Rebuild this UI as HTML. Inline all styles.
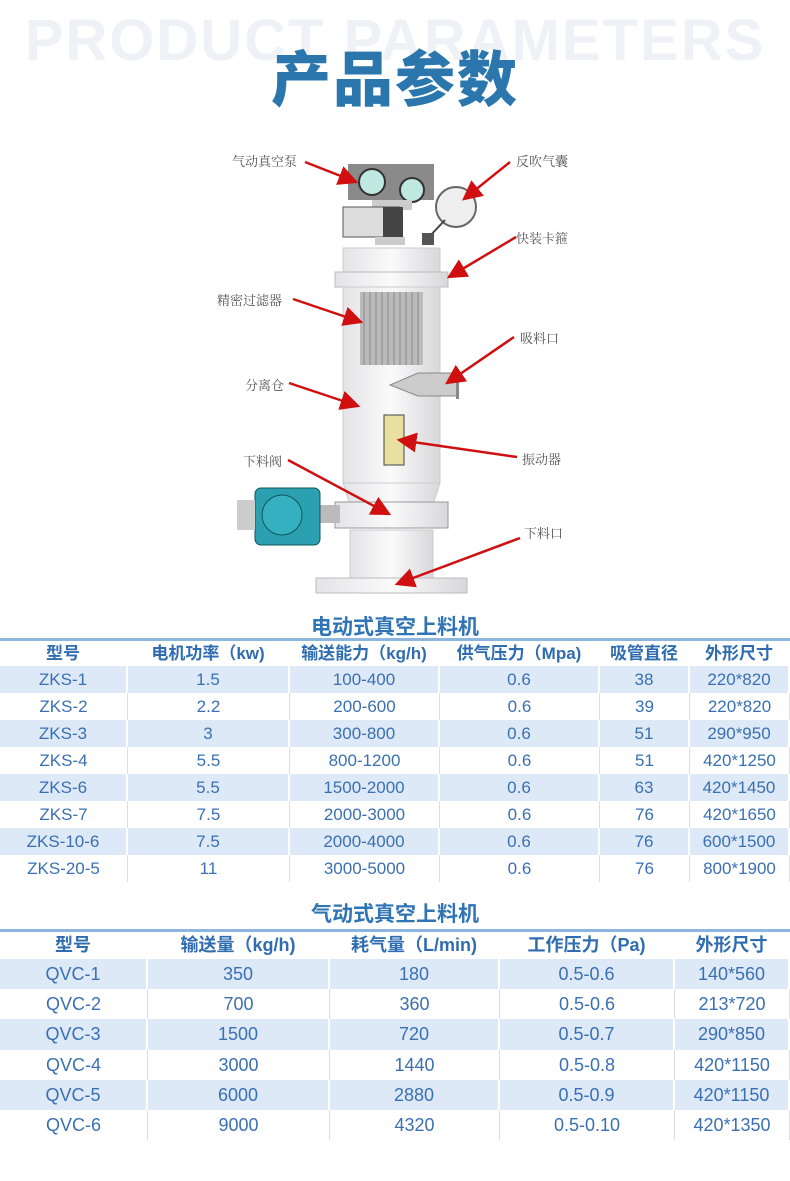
<!DOCTYPE html>
<html><head><meta charset="utf-8"><style>
*{margin:0;padding:0;box-sizing:border-box}
body{width:790px;height:1181px;background:#fff;position:relative;overflow:hidden;font-family:"Liberation Sans","Noto Sans CJK SC",sans-serif}
.abs{position:absolute}
.bg{left:0;top:12px;width:790px;text-align:center;font-size:58px;font-weight:bold;color:#eef2f6;letter-spacing:2px;line-height:58px;white-space:nowrap}
.title{left:0;top:46px;width:790px;text-align:center;font-size:60px;font-weight:900;color:#2a76ad;line-height:70px;letter-spacing:2px}
.st{width:790px;text-align:center;font-size:21px;font-weight:bold;color:#2f74b5}
.row{position:absolute;left:0;width:790px;display:flex;color:#3a70b3;font-size:17px}
.row div{text-align:center;border-right:2px solid #fff}
.row.w div{border-right:1px solid #ddd}
.row.h{font-weight:bold;color:#2f6db0;font-size:17px}
.s{background:#dde9f6}
.line{position:absolute;left:0;width:790px;height:3px;background:#8db6dc}
.lbl{position:absolute;font-size:13px;color:#555;font-family:"Liberation Serif","Noto Serif CJK SC",serif}
</style></head><body>
<div class="abs bg">PRODUCT PARAMETERS</div>
<div class="abs title">产品参数</div>

<svg class="abs" style="left:0;top:140px" width="790" height="460" viewBox="0 140 790 460">
<defs><marker id="a" markerWidth="8" markerHeight="8" refX="7" refY="4" orient="auto"><path d="M0,0 L8,4 L0,8 z" fill="#d01010"/></marker>
<linearGradient id="g" x1="0" x2="1"><stop offset="0" stop-color="#e4e4e8"/><stop offset=".5" stop-color="#fafafa"/><stop offset="1" stop-color="#d8d8dc"/></linearGradient></defs>
<rect x="348" y="164" width="86" height="36" fill="#8a8a8a"/>
<circle cx="372" cy="182" r="13" fill="#bfe8e0" stroke="#333" stroke-width="2"/>
<circle cx="412" cy="190" r="12" fill="#bfe8e0" stroke="#333" stroke-width="2"/>
<rect x="372" y="200" width="40" height="10" fill="#ccc"/>
<rect x="343" y="207" width="57" height="30" fill="#ddd" stroke="#555"/>
<rect x="383" y="207" width="20" height="30" fill="#444"/>
<circle cx="456" cy="207" r="20" fill="#eee" stroke="#666" stroke-width="2"/>
<line x1="445" y1="220" x2="428" y2="238" stroke="#444" stroke-width="2"/>
<rect x="422" y="233" width="12" height="12" fill="#555"/>
<rect x="375" y="237" width="30" height="8" fill="#ccc"/>
<rect x="343" y="248" width="97" height="24" fill="url(#g)" stroke="#ccc"/>
<rect x="335" y="272" width="113" height="15" fill="url(#g)" stroke="#bbb"/>
<rect x="343" y="287" width="97" height="196" fill="url(#g)" stroke="#ccc"/>
<rect x="360" y="292" width="63" height="73" fill="#bbb"/>
<g stroke="#888" stroke-width="1">
<line x1="364" y1="292" x2="364" y2="365"/><line x1="370" y1="292" x2="370" y2="365"/><line x1="376" y1="292" x2="376" y2="365"/><line x1="382" y1="292" x2="382" y2="365"/><line x1="388" y1="292" x2="388" y2="365"/><line x1="394" y1="292" x2="394" y2="365"/><line x1="400" y1="292" x2="400" y2="365"/><line x1="406" y1="292" x2="406" y2="365"/><line x1="412" y1="292" x2="412" y2="365"/><line x1="418" y1="292" x2="418" y2="365"/></g>
<path d="M390,385 L418,373 L457,373 L457,396 L418,396 z" fill="#ccc" stroke="#888"/>
<rect x="456" y="372" width="3" height="27" fill="#888"/>
<rect x="384" y="415" width="20" height="50" fill="#e8e0a0" stroke="#444"/>
<path d="M343,483 L440,483 L433,505 L350,505 z" fill="url(#g)" stroke="#ccc"/>
<rect x="335" y="502" width="113" height="26" fill="url(#g)" stroke="#999"/>
<rect x="300" y="505" width="40" height="18" fill="#bbb"/>
<rect x="255" y="488" width="65" height="57" rx="6" fill="#2aa0b0" stroke="#155"/>
<circle cx="282" cy="515" r="20" fill="#35b0c0" stroke="#155"/>
<rect x="237" y="500" width="18" height="30" fill="#ccc"/>
<rect x="350" y="530" width="83" height="50" fill="url(#g)" stroke="#ccc"/>
<rect x="316" y="578" width="151" height="15" fill="url(#g)" stroke="#bbb"/>
<g stroke="#d01010" stroke-width="2.5" marker-end="url(#a)">
<line x1="305" y1="162" x2="356" y2="182"/>
<line x1="510" y1="162" x2="464" y2="199"/>
<line x1="516" y1="237" x2="449" y2="277"/>
<line x1="293" y1="299" x2="361" y2="322"/>
<line x1="514" y1="337" x2="447" y2="383"/>
<line x1="289" y1="383" x2="358" y2="406"/>
<line x1="517" y1="457" x2="399" y2="440"/>
<line x1="288" y1="460" x2="389" y2="514"/>
<line x1="520" y1="538" x2="397" y2="584"/></g>
</svg>
<div class="lbl" style="left:232px;top:151px">气动真空泵</div>
<div class="lbl" style="left:516px;top:151px">反吹气囊</div>
<div class="lbl" style="left:516px;top:228px">快装卡箍</div>
<div class="lbl" style="left:217px;top:290px">精密过滤器</div>
<div class="lbl" style="left:520px;top:328px">吸料口</div>
<div class="lbl" style="left:245px;top:375px">分离仓</div>
<div class="lbl" style="left:522px;top:449px">振动器</div>
<div class="lbl" style="left:243px;top:451px">下料阀</div>
<div class="lbl" style="left:524px;top:523px">下料口</div>

<div class="abs st" style="top:611px">电动式真空上料机</div>
<div class="line" style="top:638px"></div>
<div class="row h" style="top:641px;height:25px;line-height:25px"><div style="width:128px">型号</div><div style="width:162px">电机功率（kw)</div><div style="width:150px">输送能力（kg/h)</div><div style="width:160px">供气压力（Mpa)</div><div style="width:90px">吸管直径</div><div style="width:100px">外形尺寸</div></div>
<div class="row s" style="top:666px;height:27px;line-height:27px"><div style="width:128px">ZKS-1</div><div style="width:162px">1.5</div><div style="width:150px">100-400</div><div style="width:160px">0.6</div><div style="width:90px">38</div><div style="width:100px">220*820</div></div>
<div class="row w" style="top:693px;height:27px;line-height:27px"><div style="width:128px">ZKS-2</div><div style="width:162px">2.2</div><div style="width:150px">200-600</div><div style="width:160px">0.6</div><div style="width:90px">39</div><div style="width:100px">220*820</div></div>
<div class="row s" style="top:720px;height:27px;line-height:27px"><div style="width:128px">ZKS-3</div><div style="width:162px">3</div><div style="width:150px">300-800</div><div style="width:160px">0.6</div><div style="width:90px">51</div><div style="width:100px">290*950</div></div>
<div class="row w" style="top:747px;height:27px;line-height:27px"><div style="width:128px">ZKS-4</div><div style="width:162px">5.5</div><div style="width:150px">800-1200</div><div style="width:160px">0.6</div><div style="width:90px">51</div><div style="width:100px">420*1250</div></div>
<div class="row s" style="top:774px;height:27px;line-height:27px"><div style="width:128px">ZKS-6</div><div style="width:162px">5.5</div><div style="width:150px">1500-2000</div><div style="width:160px">0.6</div><div style="width:90px">63</div><div style="width:100px">420*1450</div></div>
<div class="row w" style="top:801px;height:27px;line-height:27px"><div style="width:128px">ZKS-7</div><div style="width:162px">7.5</div><div style="width:150px">2000-3000</div><div style="width:160px">0.6</div><div style="width:90px">76</div><div style="width:100px">420*1650</div></div>
<div class="row s" style="top:828px;height:27px;line-height:27px"><div style="width:128px">ZKS-10-6</div><div style="width:162px">7.5</div><div style="width:150px">2000-4000</div><div style="width:160px">0.6</div><div style="width:90px">76</div><div style="width:100px">600*1500</div></div>
<div class="row w" style="top:855px;height:27px;line-height:27px"><div style="width:128px">ZKS-20-5</div><div style="width:162px">11</div><div style="width:150px">3000-5000</div><div style="width:160px">0.6</div><div style="width:90px">76</div><div style="width:100px">800*1900</div></div>

<div class="abs st" style="top:898px">气动式真空上料机</div>
<div class="line" style="top:929px"></div>
<div class="row h" style="top:932px;height:27px;line-height:27px;font-size:18px"><div style="width:148px">型号</div><div style="width:182px">输送量（kg/h)</div><div style="width:170px">耗气量（L/min)</div><div style="width:175px">工作压力（Pa)</div><div style="width:115px">外形尺寸</div></div>
<div class="row s" style="top:959px;height:30px;line-height:30px;font-size:18px"><div style="width:148px">QVC-1</div><div style="width:182px">350</div><div style="width:170px">180</div><div style="width:175px">0.5-0.6</div><div style="width:115px">140*560</div></div>
<div class="row w" style="top:989px;height:30px;line-height:30px;font-size:18px"><div style="width:148px">QVC-2</div><div style="width:182px">700</div><div style="width:170px">360</div><div style="width:175px">0.5-0.6</div><div style="width:115px">213*720</div></div>
<div class="row s" style="top:1019px;height:31px;line-height:31px;font-size:18px"><div style="width:148px">QVC-3</div><div style="width:182px">1500</div><div style="width:170px">720</div><div style="width:175px">0.5-0.7</div><div style="width:115px">290*850</div></div>
<div class="row w" style="top:1050px;height:30px;line-height:30px;font-size:18px"><div style="width:148px">QVC-4</div><div style="width:182px">3000</div><div style="width:170px">1440</div><div style="width:175px">0.5-0.8</div><div style="width:115px">420*1150</div></div>
<div class="row s" style="top:1080px;height:30px;line-height:30px;font-size:18px"><div style="width:148px">QVC-5</div><div style="width:182px">6000</div><div style="width:170px">2880</div><div style="width:175px">0.5-0.9</div><div style="width:115px">420*1150</div></div>
<div class="row w" style="top:1110px;height:30px;line-height:30px;font-size:18px"><div style="width:148px">QVC-6</div><div style="width:182px">9000</div><div style="width:170px">4320</div><div style="width:175px">0.5-0.10</div><div style="width:115px">420*1350</div></div>
</body></html>
